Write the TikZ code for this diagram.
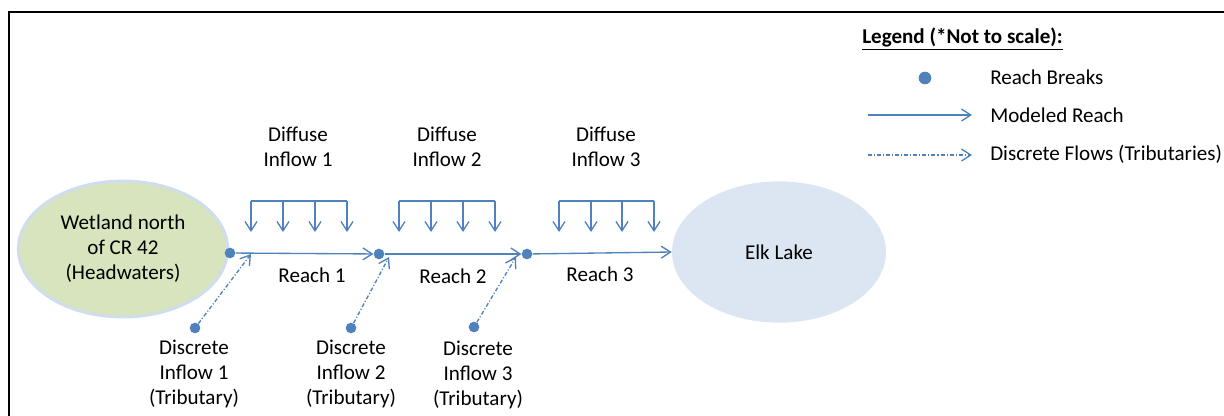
\documentclass[tikz,border=0pt]{standalone}
\usepackage{fontspec}
\setmainfont{Carlito}
\usetikzlibrary{arrows.meta,shapes.geometric}
\definecolor{lblue}{HTML}{4F81BD}
\definecolor{wetgreen}{HTML}{D7E4BD}
\definecolor{lakeblue}{HTML}{DCE6F2}
\definecolor{rimblue}{HTML}{D0DDEF}
\begin{document}
\begin{tikzpicture}[x=0.75pt,y=-0.75pt,
  font=\fontsize{15.8}{18.75}\selectfont,
  lineonly/.style={draw=lblue, line width=1pt},
  flow/.style={lineonly, -{Straight Barb[length=7pt,width=9pt]}},
  trib/.style={flow, dash pattern=on 3pt off 1.5pt on 0.8pt off 1.5pt},
  brk/.style={circle, fill=lblue, inner sep=0pt, minimum size=8pt},
  lbl/.style={align=center, inner sep=0pt},
  lgtext/.style={anchor=west, inner sep=0pt}]
\useasboundingbox (0,0) rectangle (1224,415);
% frame
\draw[line width=1.6pt] (9,416) -- (9,12) -- (1225,12);
% water bodies
\node[ellipse, fill=wetgreen, draw=rimblue, line width=2.2pt, minimum width=157pt, minimum height=102pt, align=center, inner sep=0pt] (wet) at (123,249)
  {Wetland north\\of CR 42\\(Headwaters)};
\node[ellipse, fill=lakeblue, minimum width=160.5pt, minimum height=106pt, inner sep=0pt] (lake) at (779,252) {Elk Lake};
% reach breaks
\node[brk] (b1) at (230,253) {};
\node[brk] (b2) at (379,254) {};
\node[brk] (b3) at (527,254) {};
\draw[flow] (b1) -- (b2);
\draw[flow] (b2) -- (b3);
\draw[flow] (b3) -- (lake.west);
\node[lbl] (r1) at (312,275) {Reach 1};
\node[lbl] (r2) at (453,276) {Reach 2};
\node[lbl] (r3) at (600,274) {Reach 3};
% diffuse inflows
\foreach \g/\xa/\xb/\xc/\xd in {1/251/283/315/347, 2/399/431/463/495, 3/559/591/622/654} {
  \foreach \x [count=\i] in {\xa,\xb,\xc,\xd} {
    \coordinate (d\g top\i) at (\x,201);
    \coordinate (d\g tip\i) at (\x,232);
    \draw[flow] (d\g top\i) -- (d\g tip\i);
  }
  \draw[lineonly] (d\g top1) -- (d\g top4);
}
\node[lbl] (dl1) at (298,147) {Diffuse\\Inflow 1};
\node[lbl] (dl2) at (447,147) {Diffuse\\Inflow 2};
\node[lbl] (dl3) at (606,147) {Diffuse\\Inflow 3};
% discrete inflows
\node[brk] (t1) at (195,328) {};
\node[brk] (t2) at (351,328) {};
\node[brk] (t3) at (474,327) {};
\coordinate (e1) at (251,254);
\coordinate (e2) at (389,257);
\coordinate (e3) at (516,257);
\draw[trib] (t1) -- (e1);
\draw[trib] (t2) -- (e2);
\draw[trib] (t3) -- (e3);
\node[lbl] (tl1) at (194,374) {Discrete\\Inflow 1\\(Tributary)};
\node[lbl] (tl2) at (351,374) {Discrete\\Inflow 2\\(Tributary)};
\node[lbl] (tl3) at (478,375) {Discrete\\Inflow 3\\(Tributary)};
% legend
\node[lgtext] (lgt) at (862,39) {\underline{\textbf{Legend (*Not to scale):}}};
\node[brk, minimum size=9.5pt] (lgdot) at (925,78) {};
\node[lgtext] (lg1) at (990,77) {Reach Breaks};
\coordinate (lga1) at (868,115);
\coordinate (lga2) at (972,115);
\draw[flow] (lga1) -- (lga2);
\node[lgtext] (lg2) at (990,115) {Modeled Reach};
\coordinate (lgb1) at (868,155);
\coordinate (lgb2) at (972,155);
\draw[trib] (lgb1) -- (lgb2);
\node[lgtext] (lg3) at (990,154) {Discrete Flows (Tributaries)};
\end{tikzpicture}
\end{document}
